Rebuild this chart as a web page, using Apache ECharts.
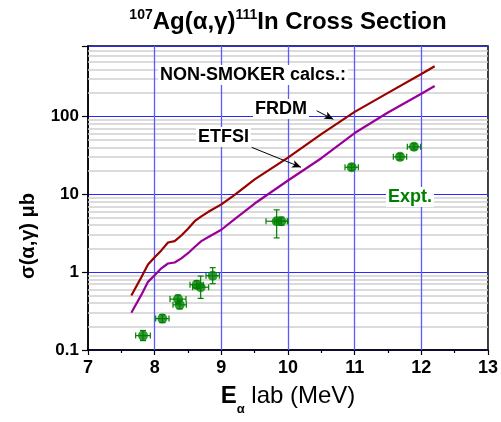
<!DOCTYPE html>
<html>
<head>
<meta charset="utf-8">
<script src="https://cdn.jsdelivr.net/npm/echarts@6/dist/echarts.min.js"></script>
<style>
  html, body { margin: 0; padding: 0; background: #fff; }
  #chart { width: 501px; height: 422px; }
</style>
</head>
<body>
<div id="chart"></div>
<script>
// NON-SMOKER calculations (energy in MeV, sigma in microbarn)
const calcEnergy = [7.65, 7.8, 7.9, 8.0, 8.1, 8.2, 8.3, 8.4, 8.5, 8.6, 8.7, 8.8, 9.0, 9.2, 9.5, 10.0, 10.5, 11.0, 11.5, 12.0, 12.2];
const frdmSigma = [0.50, 0.86, 1.25, 1.55, 1.9, 2.4, 2.5, 2.95, 3.6, 4.5, 5.2, 5.9, 7.4, 9.8, 15.5, 29.5, 59, 114, 200, 350, 440];
const etfsiSigma = [0.30, 0.51, 0.75, 0.91, 1.12, 1.29, 1.33, 1.5, 1.75, 2.1, 2.5, 2.8, 3.5, 4.8, 7.6, 15, 29, 61, 112, 195, 245];

// measured points with error bars
const exptEnergy = [7.825, 8.115, 8.35, 8.375, 8.63, 8.69, 8.87, 9.83, 9.9, 10.955, 11.68, 11.89];
const exptSigma = [0.153, 0.253, 0.45, 0.38, 0.69, 0.64, 0.90, 4.5, 4.5, 22.2, 30.2, 40.6];
const exptErrE = [0.11, 0.1, 0.12, 0.1, 0.1, 0.12, 0.1, 0.16, 0.1, 0.1, 0.1, 0.1];
const exptLow = [0.132, 0.225, 0.40, 0.337, 0.613, 0.46, 0.71, 2.75, 4.0, 20.3, 27.6, 37.1];
const exptHigh = [0.178, 0.285, 0.507, 0.428, 0.777, 0.89, 1.14, 6.3, 5.07, 24.3, 33, 44.4];

// axis ticks and grid
const xTicks = [7, 8, 9, 10, 11, 12, 13];
const yDecades = [0.1, 1, 10, 100];
const yMinorGrid = [0.2, 0.3, 0.4, 0.5, 0.6, 0.7, 0.8, 0.9, 2, 3, 4, 5, 6, 7, 8, 9,
  20, 30, 40, 50, 60, 70, 80, 90, 200, 300, 400, 500, 600, 700];
const xMajorGrid = [8, 9, 10, 11, 12];

// annotation arrows [from, to] in data coordinates
const frdmArrow = [[10.43, 118], [10.68, 91.6]];
const etfsiArrow = [[9.455, 40], [10.195, 22.2]];

const chart = echarts.init(document.getElementById('chart'));

const font = 'Liberation Sans, Arial, sans-serif';

function errorBar(params, api) {
  const e = api.value(0), s = api.value(1), de = api.value(2), lo = api.value(3), hi = api.value(4);
  const pl = api.coord([e - de, s]);
  const pr = api.coord([e + de, s]);
  const pt = api.coord([e, hi]);
  const pb = api.coord([e, lo]);
  const c = 3;
  const style = { stroke: '#008000', lineWidth: 1.2, fill: null };
  const seg = (x1, y1, x2, y2) => ({ type: 'line', shape: { x1, y1, x2, y2 }, style });
  return {
    type: 'group',
    children: [
      seg(pl[0], pl[1], pr[0], pr[1]),
      seg(pt[0], pt[1], pb[0], pb[1]),
      seg(pl[0], pl[1] - c, pl[0], pl[1] + c),
      seg(pr[0], pr[1] - c, pr[0], pr[1] + c),
      seg(pt[0] - c, pt[1], pt[0] + c, pt[1]),
      seg(pb[0] - c, pb[1], pb[0] + c, pb[1])
    ]
  };
}

const gridMarks = yMinorGrid.map(v => ({ yAxis: v, lineStyle: { color: '#cfcfcf', width: 1.5, type: 'solid' } }))
  .concat(xMajorGrid.map(v => ({ xAxis: v, lineStyle: { color: '#5a5aff', width: 1.3, type: 'solid' } })));

const option = {
  animation: false,
  backgroundColor: '#fff',
  grid: {
    left: 88, right: 13, top: 46, bottom: 72,
    show: true, borderColor: '#000', borderWidth: 1.5, backgroundColor: 'transparent'
  },
  xAxis: {
    type: 'value',
    min: xTicks[0], max: xTicks[xTicks.length - 1], interval: 1,
    axisLine: { show: true, lineStyle: { color: '#000', width: 1.5 } },
    axisTick: { show: true, length: 5, lineStyle: { color: '#000', width: 1.2 } },
    minorTick: { show: true, splitNumber: 2, length: 3, lineStyle: { color: '#000', width: 1.2 } },
    splitLine: { show: false },
    axisLabel: { color: '#000', fontFamily: font, fontWeight: 'bold', fontSize: 18, margin: 9 },
    name: '{e|E}{s|α}{n| lab (MeV)}',
    nameLocation: 'middle',
    nameGap: 32,
    nameTextStyle: {
      rich: {
        e: { fontFamily: font, fontWeight: 'bold', fontSize: 24, color: '#000', lineHeight: 28 },
        s: { fontFamily: font, fontWeight: 'bold', fontSize: 13, color: '#000', verticalAlign: 'bottom', lineHeight: 14, padding: [0, 0, -6, 0] },
        n: { fontFamily: font, fontSize: 24, color: '#000', lineHeight: 28 }
      }
    }
  },
  yAxis: {
    type: 'log',
    logBase: 10,
    min: 0.1, max: 800, interval: 1,
    axisLine: { show: true, lineStyle: { color: '#000', width: 1.5 } },
    axisTick: { show: true, length: 6, lineStyle: { color: '#000', width: 1.2 } },
    splitLine: { show: true, lineStyle: { color: '#2a2aff', width: 1 } },
    axisLabel: {
      color: '#000', fontFamily: font, fontWeight: 'bold', fontSize: 17, margin: 9,
      formatter: v => {
        const hit = yDecades.find(d => Math.abs(Math.log10(v) - Math.log10(d)) < 1e-6);
        return hit === undefined ? '' : String(hit);
      }
    },
    name: 'σ(α,γ) μb',
    nameLocation: 'middle',
    nameGap: 50,
    nameTextStyle: { fontFamily: font, fontWeight: 'bold', fontSize: 20, color: '#000', padding: [0, 76, 0, 0] }
  },
  graphic: [
    {
      type: 'text', x: 288, y: 8, z: 100,
      style: {
        text: '{s|107}{b|Ag(α,γ)}{s|111}{b|In Cross Section}',
        align: 'center',
        rich: {
          b: { fontFamily: font, fontWeight: 'bold', fontSize: 24, fill: '#000', lineHeight: 28 },
          s: { fontFamily: font, fontWeight: 'bold', fontSize: 14, fill: '#000', lineHeight: 14, verticalAlign: 'top' }
        }
      }
    },
    {
      type: 'text', x: 158, y: 75, z: 100,
      style: { text: 'NON-SMOKER calcs.:', font: 'bold 18px ' + font, fill: '#000', verticalAlign: 'middle', backgroundColor: '#fff', padding: [1, 2] }
    },
    {
      type: 'text', x: 253, y: 109, z: 100,
      style: { text: 'FRDM', font: 'bold 18px ' + font, fill: '#000', verticalAlign: 'middle', backgroundColor: '#fff', padding: [1, 2] }
    },
    {
      type: 'text', x: 196, y: 137, z: 100,
      style: { text: 'ETFSI', font: 'bold 18px ' + font, fill: '#000', verticalAlign: 'middle', backgroundColor: '#fff', padding: [1, 2] }
    },
    {
      type: 'text', x: 386, y: 197, z: 100,
      style: { text: 'Expt.', font: 'bold 18px ' + font, fill: '#008000', verticalAlign: 'middle', backgroundColor: '#fff', padding: [1, 2] }
    }
  ],
  series: [
    {
      name: 'grid',
      type: 'line',
      data: [],
      z: 1,
      silent: true,
      markLine: { silent: true, z: 1, symbol: ['none', 'none'], label: { show: false }, animation: false, data: gridMarks }
    },
    {
      name: 'FRDM',
      type: 'line',
      data: calcEnergy.map((e, i) => [e, frdmSigma[i]]),
      showSymbol: false,
      lineStyle: { color: '#990000', width: 2.2 },
      z: 3
    },
    {
      name: 'ETFSI',
      type: 'line',
      data: calcEnergy.map((e, i) => [e, etfsiSigma[i]]),
      showSymbol: false,
      lineStyle: { color: '#990099', width: 2.2 },
      z: 3
    },
    {
      name: 'errors',
      type: 'custom',
      renderItem: errorBar,
      data: exptEnergy.map((e, i) => [e, exptSigma[i], exptErrE[i], exptLow[i], exptHigh[i]]),
      encode: { x: 0, y: 1 },
      z: 4
    },
    {
      name: 'Expt.',
      type: 'scatter',
      data: exptEnergy.map((e, i) => [e, exptSigma[i]]),
      symbol: 'circle',
      symbolSize: 10,
      itemStyle: { color: '#008000' },
      z: 5
    },
    {
      name: 'arrows',
      type: 'line',
      data: [],
      z: 6,
      markLine: {
        silent: true,
        z: 6,
        symbol: ['none', 'arrow'],
        symbolSize: [6, 9],
        label: { show: false },
        lineStyle: { color: '#000', width: 1, type: 'solid' },
        data: [
          [{ coord: frdmArrow[0] }, { coord: frdmArrow[1] }],
          [{ coord: etfsiArrow[0] }, { coord: etfsiArrow[1] }]
        ]
      }
    }
  ]
};

chart.setOption(option);
</script>
</body>
</html>
